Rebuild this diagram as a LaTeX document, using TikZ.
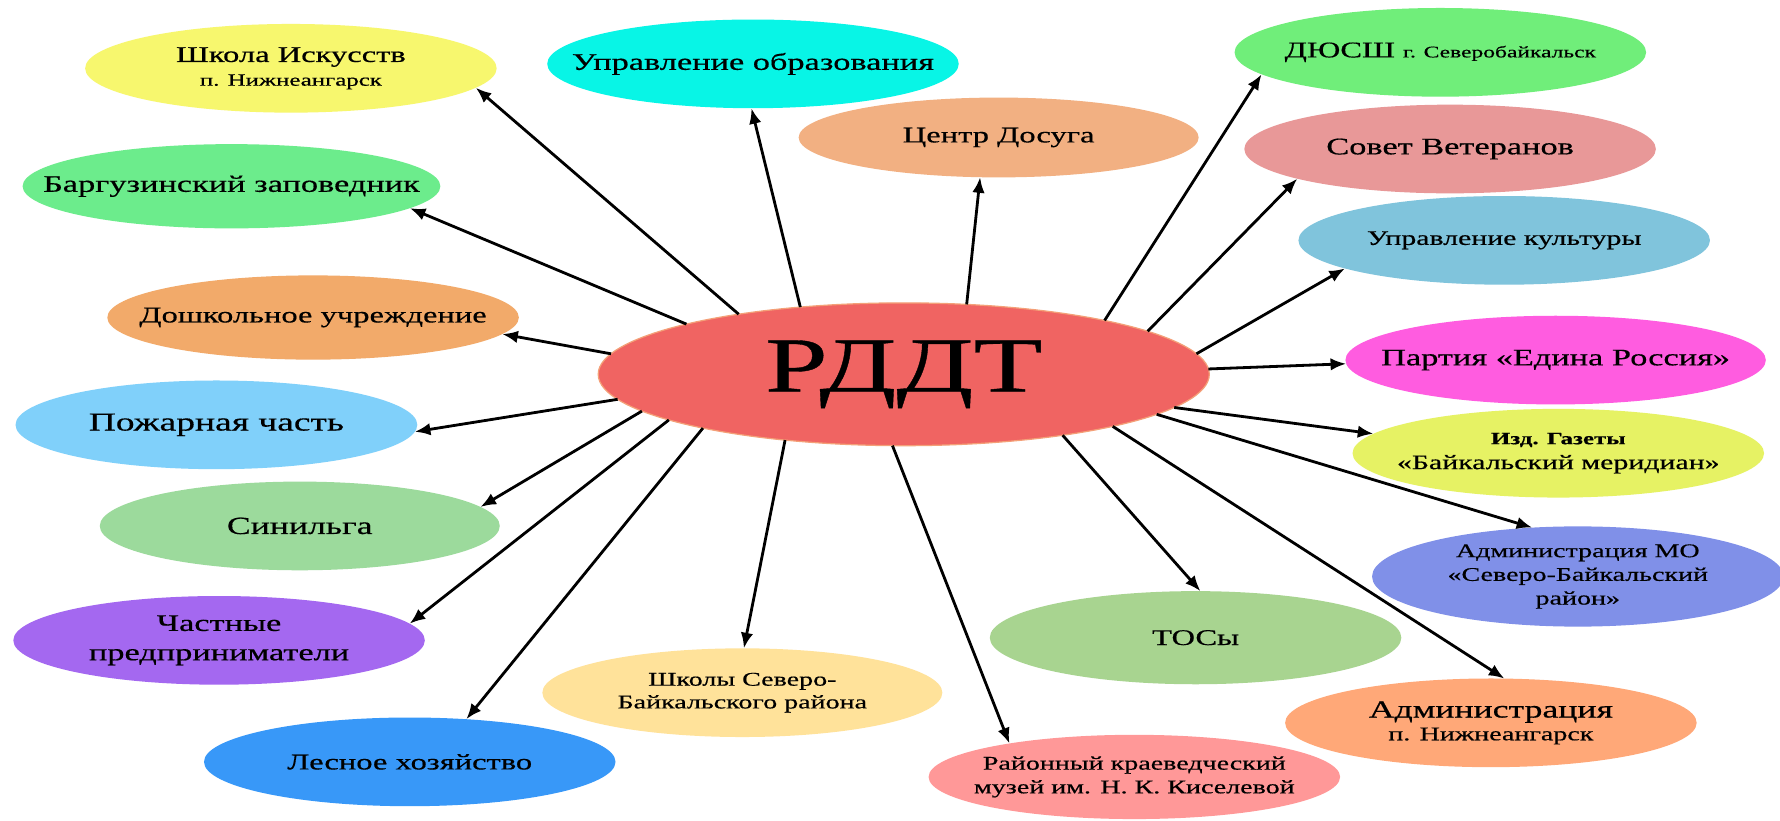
\documentclass[tikz,border=0pt]{standalone}
\usepackage{fontspec}
\setmainfont{Liberation Serif}[FakeStretch=1.45, FakeBold=0.5]
\usepackage{tikz}
\usetikzlibrary{calc, shapes, arrows.meta}
\usepackage{xcolor}

\definecolor{rddtred}{RGB}{240,100,98}
\definecolor{rddtrim}{RGB}{244,160,120}
\definecolor{artyellow}{RGB}{247,247,110}
\definecolor{educyan}{RGB}{8,245,230}
\definecolor{leisureorange}{RGB}{242,176,130}
\definecolor{sportgreen}{RGB}{112,238,122}
\definecolor{vetpink}{RGB}{232,152,152}
\definecolor{cultblue}{RGB}{128,196,220}
\definecolor{partymagenta}{RGB}{255,92,224}
\definecolor{presslime}{RGB}{230,242,100}
\definecolor{admmoviolet}{RGB}{128,144,232}
\definecolor{admnzorange}{RGB}{255,168,120}
\definecolor{tosgreen}{RGB}{168,212,144}
\definecolor{museumpink}{RGB}{255,152,152}
\definecolor{schoolsyellow}{RGB}{255,226,154}
\definecolor{forestblue}{RGB}{56,152,248}
\definecolor{businesspurple}{RGB}{164,104,240}
\definecolor{sinilgagreen}{RGB}{156,218,156}
\definecolor{fireblue}{RGB}{128,208,250}
\definecolor{kinderorange}{RGB}{242,170,106}
\definecolor{reservegreen}{RGB}{108,236,140}

\newcommand{\mysize}[2]{\fontsize{#1}{#2}\selectfont\lineskiplimit=-20pt\relax}

\tikzset{
	partner/.style={ellipse, fill=#1, minimum width=4.64cm, minimum height=1.0cm,
		inner xsep=-1.5cm, inner ysep=-0.4cm, outer sep=0pt, align=center,
		font=\mysize{7.2}{7.6}},
	link/.style={-{Latex[length=5pt,width=4pt]}, line width=0.9pt}
}

\begin{document}
\begin{tikzpicture}
				%Page
				\path[use as bounding box, fill=white] (0,0) rectangle (20.07,-9.254);
				%The centre
				\node[partner=rddtred, draw=rddtrim, line width=0.4pt, minimum width=6.89cm, minimum height=1.61cm,
					font=\mysize{25}{28}] (rddt) at (10.19,-4.22) {РДДТ};
				%Top row
				\node[partner=artyellow] (art) at (3.28,-0.77) {Школа Искусств\\{\mysize{5.5}{7.6}п. Нижнеангарск}};
				\node[partner=educyan, font=\mysize{7.6}{9}] (edu) at (8.49,-0.72) {Управление образования};
				\node[partner=leisureorange, minimum width=4.51cm, minimum height=0.9cm] (leisure) at (11.26,-1.55) {Центр Досуга};
				%Right side
				\node[partner=sportgreen] (sport) at (16.24,-0.59) {ДЮСШ {\mysize{5.2}{7}г. Северобайкальск}};
				\node[partner=vetpink, font=\mysize{7.6}{9}] (vet) at (16.35,-1.68) {Совет Ветеранов};
				\node[partner=cultblue, font=\mysize{6.6}{8}] (cult) at (16.96,-2.71) {Управление культуры};
				\node[partner=partymagenta, minimum width=4.74cm, font=\mysize{7.6}{9}] (party) at (17.54,-4.06) {Партия «Едина Россия»};
				\node[partner=presslime, font=\mysize{6.6}{8}] (press) at (17.57,-5.11) {{\mysize{5.5}{8}\bfseries Изд. Газеты}\\«Байкальский меридиан»};
				\node[partner=admmoviolet, minimum height=1.13cm, font=\mysize{6.2}{7.6}] (admmo) at (17.79,-6.50) {Администрация МО\\«Северо-Байкальский\\район»};
				\node[partner=admnzorange, font=\mysize{7.9}{7.3}] (admnz) at (16.81,-8.15) {Администрация\\{\mysize{6.2}{7.3}п. Нижнеангарск}};
				%Bottom row
				\node[partner=tosgreen, minimum height=1.05cm] (tos) at (13.48,-7.19) {ТОСы};
				\node[partner=museumpink, minimum height=0.95cm, font=\mysize{6.2}{7.6}] (museum) at (12.79,-8.76) {Районный краеведческий\\музей им. Н. К. Киселевой};
				\node[partner=schoolsyellow, minimum width=4.51cm, font=\mysize{6.2}{7.3}] (schools) at (8.37,-7.81) {Школы Северо-\\Байкальского района};
				\node[partner=forestblue] (forest) at (4.62,-8.59) {Лесное хозяйство};
				%Left side
				\node[partner=businesspurple, font=\mysize{7.6}{9.4}] (business) at (2.47,-7.22) {Частные\\предприниматели};
				\node[partner=sinilgagreen, minimum width=4.51cm, font=\mysize{7.9}{9}] (sinilga) at (3.38,-5.93) {Синильга};
				\node[partner=fireblue, minimum width=4.53cm, font=\mysize{8.3}{10}] (fire) at (2.44,-4.79) {Пожарная часть};
				\node[partner=kinderorange, minimum height=0.95cm] (kinder) at (3.53,-3.58) {Дошкольное учреждение};
				\node[partner=reservegreen, minimum width=4.71cm, minimum height=0.95cm, font=\mysize{7.6}{9}] (reserve) at (2.61,-2.10) {Баргузинский заповедник};
				%Arrows from the centre
				\foreach \from/\to/\at in {160/art/-6, 147/edu/-92, 48/leisure/-115, 15/sport/187,
					10/vet/191, 4/cult/190, 1/party/181, -7/press/174, -9/admmo/133, -14/admnz/73,
					-21/tos/84, -99/museum/165, 209/schools/88, 195/forest/37, 191/business/5,
					188/sinilga/6, 185/fire/-2, 176/kinder/-5, 167/reserve/-7} {
					\draw[link] (rddt.\from) -- (\to.\at);
				}
\end{tikzpicture}
\end{document}
